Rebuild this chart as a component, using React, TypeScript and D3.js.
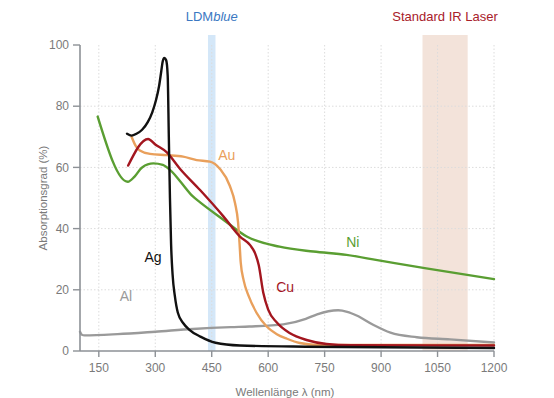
import React from 'react';
import * as d3 from 'd3';

// wavelength (nm) / absorption (%)
const agData: [number, number][] = [
  [225, 71], [237, 70.4], [250, 71], [265, 72.3], [280, 74.8], [292, 78], [302, 82],
  [310, 86.5], [316, 91.5], [320, 94.8], [324, 95.8], [329, 95], [333, 90], [336, 70],
  [339, 50], [342, 35], [346, 25], [352, 18], [360, 12.5], [375, 9], [390, 7], [420, 4.7],
  [460, 2.7], [525, 1.8], [700, 1.4], [1200, 1],
];
const alData: [number, number][] = [
  [100, 6.3], [105, 5.3], [112, 5.1], [200, 5.5], [300, 6.3], [400, 7.2], [500, 7.8],
  [550, 8], [640, 8.7], [700, 10.5], [730, 12], [760, 13], [786, 13.3], [810, 12.8],
  [835, 11.6], [880, 8.5], [925, 6], [995, 4.5], [1083, 3.8], [1200, 2.8],
];
const niData: [number, number][] = [
  [147, 76.6], [227, 55.3], [245, 57], [265, 60], [295, 61.3], [320, 60.8], [345, 58.5],
  [366, 55.5], [400, 50.5], [420, 48.5], [480, 43], [543, 37.4], [630, 34.1], [720, 32.5],
  [808, 31.4], [890, 29.7], [1020, 27], [1200, 23.5],
];
const cuData: [number, number][] = [
  [228, 60.6], [281, 69.3], [300, 67.5], [330, 65], [366, 59.5], [419, 52.6], [481, 44],
  [525, 37.4], [552, 34.6], [565, 32], [575, 28], [587, 19], [600, 13.5], [623, 9.3],
  [658, 5.8], [702, 3.6], [755, 2.3], [820, 1.9], [1200, 1.8],
];
const auData: [number, number][] = [
  [237, 70], [248, 67], [259, 65.5], [286, 64.4], [330, 64], [374, 63.5], [410, 62.4],
  [445, 61.9], [472, 59.5], [498, 54], [512, 48.3], [520, 42], [524, 35], [527, 29],
  [535, 23], [548, 18], [569, 12.5], [596, 8], [623, 5.5], [650, 4], [684, 2.6],
  [729, 2], [1200, 2],
];

const xTicks = [150, 300, 450, 600, 750, 900, 1050, 1200];
const yTicks = [0, 20, 40, 60, 80, 100];
const blueBand = [440, 460];
const irBand = [1010, 1130];

const series = [
  { name: 'Al', data: alData, color: '#9a9a9a', label: [222, 18] },
  { name: 'Ni', data: niData, color: '#5a9e32', label: [825, 35.5] },
  { name: 'Au', data: auData, color: '#e9a05c', label: [490, 64] },
  { name: 'Cu', data: cuData, color: '#a3161f', label: [645, 21] },
  { name: 'Ag', data: agData, color: '#111111', label: [294, 30.7] },
];

const font = '"Liberation Sans", Arial, Helvetica, sans-serif';

export default function App() {
  const width = 554;
  const height = 398;
  const x = d3.scaleLinear().domain([100, 1200]).range([80, 494]);
  const y = d3.scaleLinear().domain([0, 100]).range([351, 45]);
  const line = d3
    .line<[number, number]>()
    .x((d) => x(d[0]))
    .y((d) => y(d[1]))
    .curve(d3.curveMonotoneX);

  const axisColor = '#8d9196';
  const tickText = '#7a7a7a';

  return (
    <svg
      width={width}
      height={height}
      style={{ position: 'absolute', left: 0, top: 0, background: '#fff' }}
      fontFamily={font}
    >
      {/* laser bands */}
      <rect x={x(blueBand[0])} y={35} width={x(blueBand[1]) - x(blueBand[0])} height={y(0) - 35} fill="#d4e7f8" />
      <rect x={x(irBand[0])} y={35} width={x(irBand[1]) - x(irBand[0])} height={y(0) - 35} fill="#f3e3da" />

      {/* grid */}
      {xTicks.map((t) => (
        <line key={'gx' + t} x1={x(t)} x2={x(t)} y1={y(100)} y2={y(0)} stroke="#dcdcdc" strokeDasharray="1.5,2" />
      ))}
      {yTicks.filter((t) => t > 0 && t < 100).map((t) => (
        <line key={'gy' + t} x1={x(100)} x2={x(1200) + 1} y1={y(t)} y2={y(t)} stroke="#dcdcdc" strokeDasharray="1.5,2" />
      ))}

      {/* curves */}
      {series.map((s) => (
        <path key={s.name} d={line(s.data) || ''} fill="none" stroke={s.color} strokeWidth={2.4} strokeLinejoin="round" strokeLinecap="round" />
      ))}

      {/* axes */}
      <line x1={80} x2={80} y1={y(100)} y2={y(0)} stroke={axisColor} strokeWidth={1.6} />
      <line x1={80} x2={x(1200)} y1={y(0)} y2={y(0)} stroke={axisColor} strokeWidth={1.6} />
      {yTicks.map((t) => (
        <g key={'yt' + t}>
          <line x1={73} x2={80} y1={y(t)} y2={y(t)} stroke={axisColor} strokeWidth={1.4} />
          <text x={69} y={y(t)} dy="0.35em" textAnchor="end" fontSize={12} fill={tickText}>
            {t}
          </text>
        </g>
      ))}
      {xTicks.map((t) => (
        <g key={'xt' + t}>
          <line x1={x(t)} x2={x(t)} y1={y(0)} y2={y(0) + 6} stroke={axisColor} strokeWidth={1.4} />
          <text x={x(t)} y={372} textAnchor="middle" fontSize={12} fill={tickText}>
            {t}
          </text>
        </g>
      ))}

      {/* axis titles */}
      <text transform="translate(47,198) rotate(-90)" textAnchor="middle" fontSize={11.5} fill={tickText}>
        Absorptionsgrad (%)
      </text>
      <text x={285} y={396} textAnchor="middle" fontSize={11.5} fill={tickText}>
        Wellenlänge λ (nm)
      </text>

      {/* series labels */}
      {series.map((s) => (
        <text
          key={'l' + s.name}
          x={x(s.label[0])}
          y={y(s.label[1])}
          dy="0.35em"
          textAnchor="middle"
          fontSize={14}
          fill={s.color}
        >
          {s.name}
        </text>
      ))}

      {/* band titles */}
      <text x={x(450)} y={21} textAnchor="middle" fontSize={13} fill="#3b78c2">
        LDM<tspan fontStyle="italic">blue</tspan>
      </text>
      <text x={x(1070)} y={21} textAnchor="middle" fontSize={13} fill="#a8202a">
        Standard IR Laser
      </text>
    </svg>
  );
}
